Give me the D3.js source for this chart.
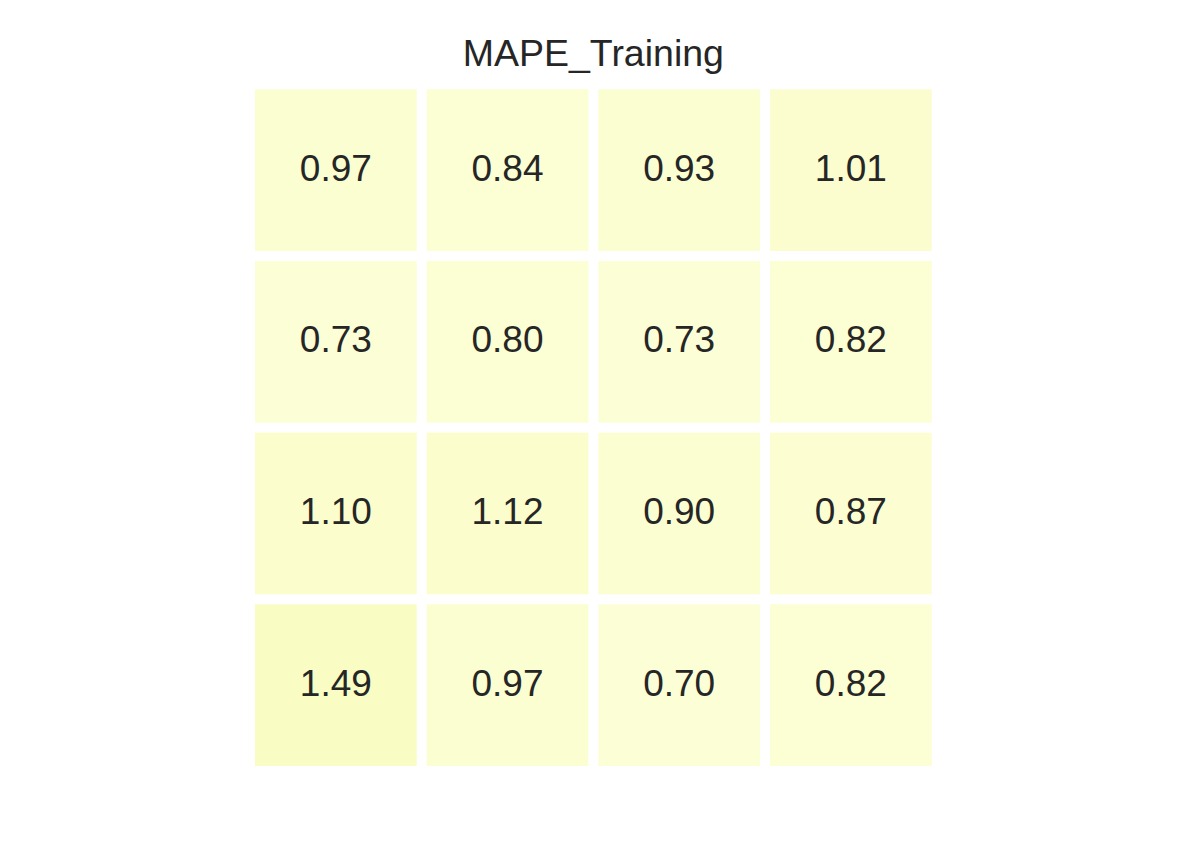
<!DOCTYPE html>
<html><head><meta charset="utf-8">
<script src="https://cdn.jsdelivr.net/npm/d3@7"></script>
<style>body{margin:0;background:#fff}</style>
</head><body>
<script>
const title = "MAPE_Training";
const rows = ["r0","r1","r2","r3"];
const cols = ["c0","c1","c2","c3"];
const values = [
  [0.97, 0.84, 0.93, 1.01],
  [0.73, 0.80, 0.73, 0.82],
  [1.10, 1.12, 0.90, 0.87],
  [1.49, 0.97, 0.70, 0.82]
];
const W = 1196, H = 862;
const svg = d3.select("body").append("svg").attr("width", W).attr("height", H);
const x = d3.scaleBand().domain(cols).range([250, 936.7]);
const y = d3.scaleBand().domain(rows).range([84.3, 771]);
const color = d3.scaleLinear().domain([0, 2, 4]).range(["#ffffe5", "#f7fcb9", "#d9f0a3"]).clamp(true);
const gap = 10;
const cells = [];
values.forEach((r, i) => r.forEach((v, j) => cells.push({row: rows[i], col: cols[j], v})));
svg.selectAll("rect.cell").data(cells).enter().append("rect")
  .attr("x", d => x(d.col) + gap/2).attr("y", d => y(d.row) + gap/2)
  .attr("width", x.bandwidth() - gap).attr("height", y.bandwidth() - gap)
  .attr("fill", d => color(d.v));
svg.selectAll("text.lab").data(cells).enter().append("text")
  .attr("x", d => x(d.col) + x.bandwidth()/2).attr("y", d => y(d.row) + y.bandwidth()/2 - 2)
  .attr("text-anchor", "middle").attr("dominant-baseline", "central")
  .style("font-family", "Arial, 'Liberation Sans', sans-serif").style("font-size", "37px")
  .attr("fill", "#262626").text(d => d.v.toFixed(2));
svg.append("text").attr("x", (250+936.7)/2).attr("y", 66).attr("text-anchor", "middle")
  .style("font-family", "Arial, 'Liberation Sans', sans-serif").style("font-size", "37.5px")
  .attr("fill", "#262626").text(title);
</script>
</body></html>
